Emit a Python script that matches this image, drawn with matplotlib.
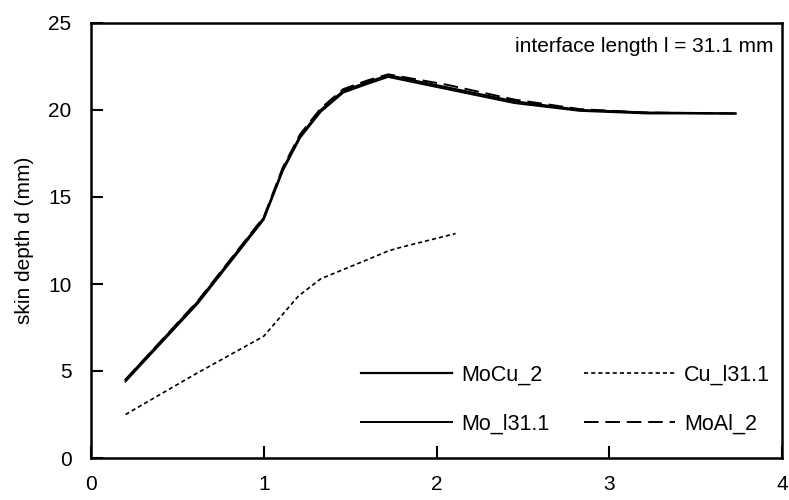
import matplotlib
matplotlib.use("Agg")
import matplotlib.pyplot as plt

plt.rcParams['font.family'] = ['Liberation Sans', 'DejaVu Sans']

# frequency axis (x) and skin depth values (mm)
mocu_x = [0.2, 0.62, 1.0, 1.11, 1.21, 1.33, 1.46, 1.6, 1.72, 2.06, 2.45, 2.83, 3.22, 3.73]
mocu_y = [4.5, 9.0, 13.8, 16.6, 18.5, 20.0, 21.1, 21.6, 22.0, 21.3, 20.5, 20.0, 19.85, 19.8]

mo_x = [0.2, 0.62, 1.0, 1.11, 1.21, 1.33, 1.46, 1.6, 1.72, 2.06, 2.45, 2.83, 3.22, 3.73]
mo_y = [4.4, 8.9, 13.7, 16.5, 18.4, 19.9, 21.0, 21.5, 21.9, 21.2, 20.4, 19.95, 19.8, 19.8]

moal_x = [0.2, 0.62, 1.0, 1.11, 1.21, 1.33, 1.46, 1.6, 1.72, 2.06, 2.45, 2.83, 3.22, 3.73]
moal_y = [4.5, 9.05, 13.85, 16.7, 18.6, 20.1, 21.2, 21.7, 22.05, 21.45, 20.6, 20.05, 19.85, 19.8]

cu_x = [0.2, 0.6, 1.0, 1.2, 1.33, 1.6, 1.72, 1.79, 2.11]
cu_y = [2.5, 4.8, 7.0, 9.3, 10.3, 11.4, 11.9, 12.1, 12.9]

fig = plt.figure(figsize=(7.89, 5.0), dpi=100)
ax = fig.add_axes([0.1153, 0.084, 0.876, 0.87])

ax.plot(mocu_x, mocu_y, color='black', lw=1.6, label='MoCu_2')
ax.plot(mo_x, mo_y, color='black', lw=1.4, label='Mo_l31.1')
ax.plot(cu_x, cu_y, color='black', lw=1.2, ls=(0, (2.5, 1.8)), label='Cu_l31.1')
ax.plot(moal_x, moal_y, color='black', lw=1.4, ls=(0, (7.5, 3.5)), label='MoAl_2')

ax.set_xlim(0, 4)
ax.set_ylim(0, 25)
ax.set_xticks([0, 1, 2, 3, 4])
ax.set_yticks([0, 5, 10, 15, 20, 25])
ax.tick_params(direction='in', length=8.5, width=1.5, labelsize=15)
ax.tick_params(axis='y', pad=14)
ax.tick_params(axis='x', pad=12)
for side in ax.spines.values():
    side.set_linewidth(1.8)

ax.set_ylabel('skin depth d (mm)', fontsize=15, labelpad=10)
ax.text(0.987, 0.947, 'interface length l = 31.1 mm', transform=ax.transAxes,
        ha='right', va='center', fontsize=15)

ax.legend(ncol=2, frameon=False, loc='lower right', fontsize=15.5,
          handlelength=4.2, handletextpad=0.45, columnspacing=1.6, labelspacing=1.3,
          bbox_to_anchor=(1.011, 0.01))

fig.savefig('out.png', dpi=100)
